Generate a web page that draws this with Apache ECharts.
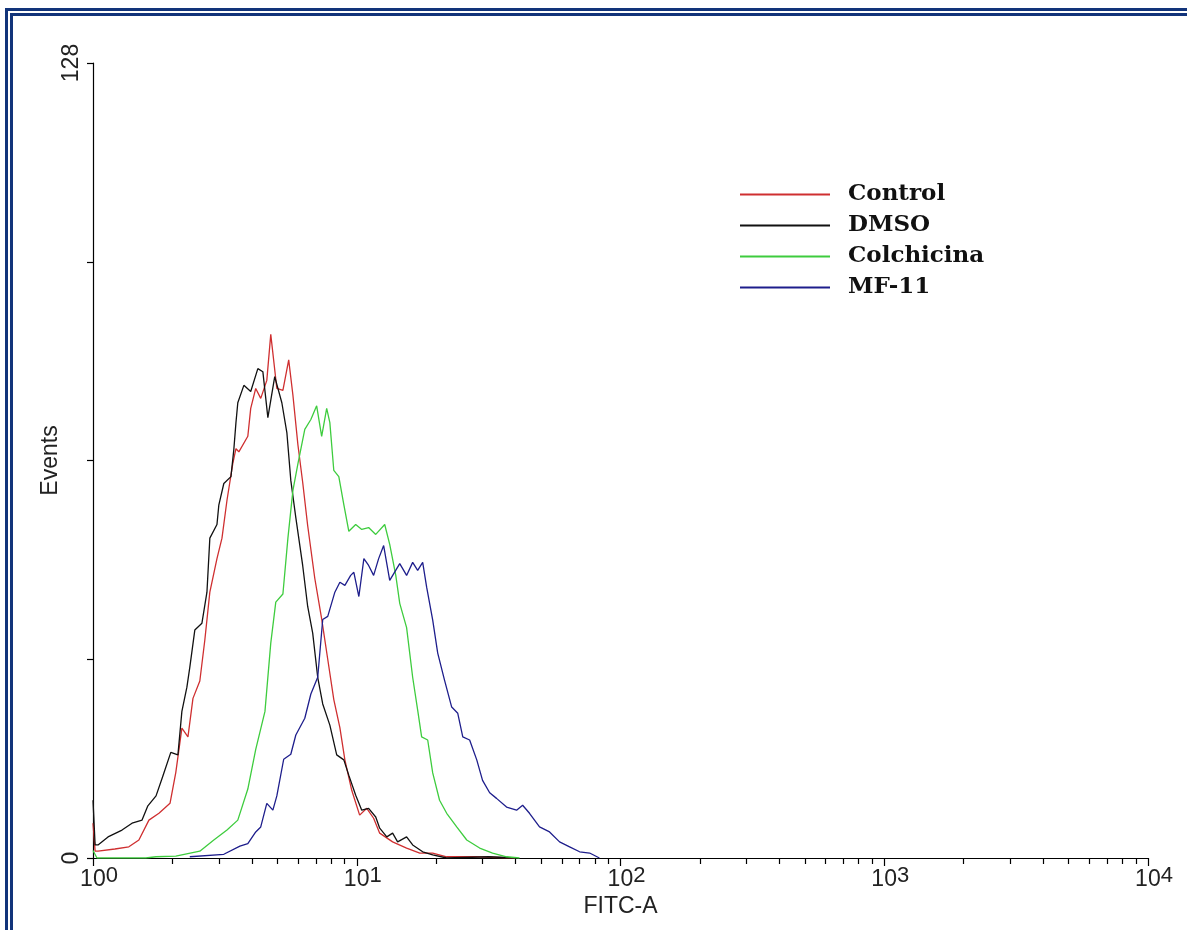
<!DOCTYPE html>
<html>
<head>
<meta charset="utf-8">
<title>FITC-A histogram</title>
<style>
  html, body { margin: 0; padding: 0; background: #fff; }
  #wrap { position: relative; width: 1187px; height: 930px; overflow: hidden; background: #fff; }
  .frame { position: absolute; border-left: 3px solid #12347a; border-top: 3px solid #12347a; width: 1300px; height: 1100px; }
  #outer { left: 5px; top: 8px; }
  #inner { left: 10px; top: 13px; }
  #chart { position: absolute; left: 0; top: 0; width: 1187px; height: 930px; }
</style>
</head>
<body>
<div id="wrap">
  <div class="frame" id="outer"></div>
  <div class="frame" id="inner"></div>
  <div id="chart"></div>
</div>
<script src="https://cdn.jsdelivr.net/npm/echarts@6/dist/echarts.min.js"></script>
<script>
// x = log10(FITC-A), y = events
var seriesNames = ['Control', 'DMSO', 'Colchicina', 'MF-11'];
var seriesColors = ['#cf2f30', '#111111', '#3ecc3e', '#1e1e8c'];

var controlData = [
  [0, 5.6], [0.008, 1.1], [0.019, 1.1], [0.083, 1.45], [0.136, 1.8], [0.174, 2.9], [0.212, 6.1],
  [0.25, 7.2], [0.292, 8.8], [0.314, 13.8], [0.337, 20.9], [0.36, 19.5], [0.379, 25.7], [0.405, 28.5],
  [0.424, 35.1], [0.443, 42.8], [0.47, 48.2], [0.489, 51.5], [0.508, 57.6], [0.53, 63.5], [0.542, 65.9],
  [0.553, 65.4], [0.587, 67.9], [0.598, 72.4], [0.617, 75.6], [0.636, 74.0], [0.659, 76.9], [0.674, 84.3],
  [0.697, 75.6], [0.72, 75.3], [0.742, 80.2], [0.758, 74.5], [0.777, 66.5], [0.795, 60.5], [0.814, 53.5],
  [0.841, 45.0], [0.867, 38.5], [0.89, 32.0], [0.913, 25.5], [0.936, 21.0], [0.955, 15.8], [0.981, 10.9],
  [1.011, 6.9], [1.038, 8.0], [1.064, 6.4], [1.087, 4.0], [1.136, 2.6], [1.189, 1.6], [1.239, 0.8],
  [1.288, 0.8], [1.341, 0.2], [1.45, 0.2], [1.6, 0]
];

var dmsoData = [
  [0, 9.3], [0.008, 2.1], [0.019, 2.1], [0.057, 3.4], [0.11, 4.5], [0.148, 5.6], [0.186, 6.1],
  [0.208, 8.4], [0.239, 10.0], [0.265, 13.2], [0.295, 17.0], [0.322, 16.6], [0.337, 23.6], [0.356, 27.5],
  [0.367, 30.7], [0.386, 36.7], [0.413, 37.8], [0.432, 42.8], [0.443, 51.5], [0.47, 53.7], [0.477, 56.8],
  [0.496, 60.3], [0.523, 61.4], [0.534, 65.8], [0.542, 70.1], [0.549, 73.3], [0.572, 76.1], [0.598, 75.1],
  [0.625, 78.8], [0.644, 78.3], [0.663, 70.9], [0.689, 77.5], [0.716, 73.3], [0.735, 68.5], [0.75, 60.8],
  [0.769, 54.8], [0.795, 47.1], [0.814, 40.5], [0.833, 36.2], [0.852, 29.1], [0.871, 24.8], [0.898, 21.4],
  [0.924, 16.6], [0.951, 15.8], [0.97, 13.3], [0.996, 10.1], [1.019, 7.7], [1.045, 8.0], [1.072, 6.6],
  [1.087, 4.8], [1.114, 3.4], [1.136, 4.0], [1.155, 2.6], [1.189, 3.4], [1.212, 2.1], [1.25, 1.0],
  [1.288, 0.5], [1.341, 0], [1.5, 0.2], [1.6, 0]
];

var colchicinaData = [
  [0, 1.2], [0.015, 0], [0.2, 0], [0.239, 0.2], [0.314, 0.3], [0.405, 1.1], [0.458, 2.9], [0.508, 4.5],
  [0.549, 6.1], [0.587, 11.1], [0.617, 17.5], [0.652, 23.6], [0.674, 34.6], [0.693, 41.2], [0.72, 42.5],
  [0.739, 51.5], [0.758, 59.2], [0.777, 63.5], [0.803, 69.0], [0.826, 70.6], [0.848, 72.8], [0.867, 67.9],
  [0.886, 72.4], [0.898, 70.1], [0.913, 62.4], [0.932, 61.4], [0.951, 56.9], [0.97, 52.6], [0.996, 53.7],
  [1.019, 52.9], [1.045, 53.2], [1.072, 52.1], [1.106, 53.7], [1.125, 50.5], [1.148, 45.5], [1.163, 41.0],
  [1.189, 37.1], [1.212, 29.1], [1.231, 23.8], [1.246, 19.5], [1.269, 19.0], [1.288, 13.7], [1.314, 9.3],
  [1.341, 7.2], [1.379, 5.0], [1.417, 2.9], [1.466, 1.6], [1.515, 0.8], [1.568, 0.2], [1.617, 0]
];

var mf11Data = [
  [0.367, 0.2], [0.496, 0.6], [0.557, 1.9], [0.587, 2.3], [0.617, 4.2], [0.636, 5.0], [0.659, 8.8],
  [0.682, 7.7], [0.697, 10.0], [0.723, 15.9], [0.75, 16.7], [0.769, 19.8], [0.803, 22.5], [0.826, 26.4],
  [0.852, 29.1], [0.871, 38.4], [0.89, 38.9], [0.917, 42.8], [0.936, 44.4], [0.955, 43.9], [0.977, 45.5],
  [0.989, 46.0], [1.008, 42.1], [1.027, 48.2], [1.045, 47.1], [1.064, 45.5], [1.083, 48.2], [1.102, 50.3],
  [1.125, 44.7], [1.163, 47.4], [1.189, 45.5], [1.212, 47.6], [1.231, 46.3], [1.25, 47.6], [1.265, 43.6],
  [1.288, 38.3], [1.307, 33.0], [1.333, 28.6], [1.36, 24.3], [1.383, 23.3], [1.402, 19.5], [1.428, 19.0],
  [1.455, 15.8], [1.477, 12.5], [1.504, 10.5], [1.53, 9.6], [1.568, 8.2], [1.606, 7.7], [1.629, 8.5],
  [1.655, 7.2], [1.693, 5.0], [1.731, 4.2], [1.769, 2.6], [1.807, 1.8], [1.845, 1.0], [1.883, 0.8], [1.92, 0]
];

var xTickExponents = [0, 1, 2, 3, 4];
var minorMultipliers = [2, 3, 4, 5, 6, 7, 8, 9];
var yLabelValues = [0, 128];

// minor log ticks between decades
var minorTickPos = [];
xTickExponents.slice(0, -1).forEach(function (e) {
  minorMultipliers.forEach(function (m) { minorTickPos.push(e + Math.log10(m)); });
});

var allData = [controlData, dmsoData, colchicinaData, mf11Data];
var font = '"Liberation Sans", Arial, sans-serif';

var chart = echarts.init(document.getElementById('chart'), null, { renderer: 'canvas' });
chart.setOption({
  animation: false,
  grid: { left: 93, right: 39, top: 63, bottom: 72 },
  legend: {
    orient: 'vertical',
    left: 740,
    top: 179,
    padding: 0,
    itemWidth: 90,
    itemHeight: 2,
    itemGap: 0,
    icon: 'rect',
    data: seriesNames,
    textStyle: {
      fontFamily: '"DejaVu Serif", serif',
      fontWeight: 'bold',
      fontSize: 23,
      lineHeight: 31,
      color: '#111',
      padding: [0, 0, 0, 13]
    }
  },
  xAxis: [{
    type: 'value',
    min: 0,
    max: 4,
    interval: 1,
    position: 'bottom',
    axisLine: { onZero: false, lineStyle: { color: '#000', width: 1.2 } },
    axisTick: { length: 8, lineStyle: { color: '#000', width: 1.2 } },
    splitLine: { show: false },
    axisLabel: {
      margin: 7,
      formatter: function (v) { return '{b|10}{s|' + v + '}'; },
      rich: {
        b: { fontSize: 23, fontFamily: font, color: '#222', padding: [0, 0, 0, 12] },
        s: { fontSize: 22, fontFamily: font, color: '#222', padding: [0, 0, 8, 0] }
      }
    },
    name: 'FITC-A',
    nameLocation: 'middle',
    nameGap: 37,
    nameMoveOverlap: false,
    nameTextStyle: { fontSize: 23, fontFamily: font, color: '#222' }
  }, {
    type: 'value',
    min: 0,
    max: 4,
    position: 'bottom',
    axisLine: { show: false, onZero: false },
    axisLabel: { show: false },
    splitLine: { show: false },
    axisTick: { show: true, length: 6, customValues: minorTickPos, lineStyle: { color: '#000', width: 1.2 } }
  }],
  yAxis: {
    type: 'value',
    min: 0,
    max: 128,
    interval: 32,
    axisLine: { show: true, lineStyle: { color: '#000', width: 1.2 } },
    axisTick: { show: true, length: 6, lineStyle: { color: '#000', width: 1.2 } },
    splitLine: { show: false },
    axisLabel: {
      rotate: 90,
      margin: 10,
      fontSize: 23,
      fontFamily: font,
      color: '#222',
      formatter: function (v) { return yLabelValues.indexOf(v) >= 0 ? String(v) : ''; }
    },
    name: 'Events',
    nameLocation: 'middle',
    nameGap: 31,
    nameMoveOverlap: false,
    nameTextStyle: { fontSize: 23, fontFamily: font, color: '#222' }
  },
  series: seriesNames.map(function (n, i) {
    return {
      name: n,
      type: 'line',
      xAxisIndex: 0,
      data: allData[i],
      showSymbol: false,
      symbol: 'none',
      color: seriesColors[i],
      lineStyle: { width: 1.3, color: seriesColors[i] }
    };
  })
});
</script>
</body>
</html>
